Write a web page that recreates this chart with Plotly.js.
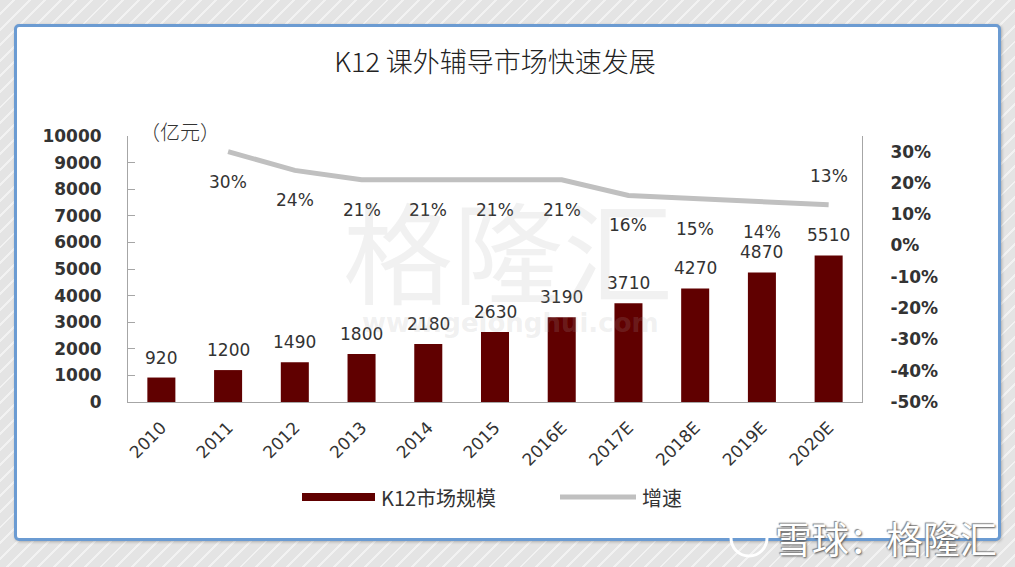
<!DOCTYPE html>
<html>
<head>
<meta charset="utf-8">
<script src="https://cdn.plot.ly/plotly-3.0.1.min.js"></script>
<style>
  html, body { margin: 0; padding: 0; }
  body {
    width: 1015px; height: 567px; overflow: hidden; position: relative;
    background: repeating-linear-gradient(135deg, #e4e4e4 0px, #e4e4e4 9px, #f2f2f2 9px, #f2f2f2 11px);
  }
  #panel {
    position: absolute; left: 14px; top: 24px; width: 981px; height: 511px;
    background: #ffffff; border: 3px solid #6b9bd2; border-radius: 5px;
    box-shadow: 1px 1px 3px rgba(0,0,0,0.25);
  }
  #chart { position: absolute; left: 0; top: 0; width: 1015px; height: 567px; }
</style>
</head>
<body>
<div id="panel"></div>
<div id="chart"></div>
<script>
// ---- data ----
const years = ['2010', '2011', '2012', '2013', '2014', '2015', '2016E', '2017E', '2018E', '2019E', '2020E'];
const marketSize = [920, 1200, 1490, 1800, 2180, 2630, 3190, 3710, 4270, 4870, 5510];
const growthYears = ['2011', '2012', '2013', '2014', '2015', '2016E', '2017E', '2018E', '2019E', '2020E'];
const growthRate = [0.30, 0.24, 0.21, 0.21, 0.21, 0.21, 0.16, 0.15, 0.14, 0.13];
const leftTickVals = [0, 1000, 2000, 3000, 4000, 5000, 6000, 7000, 8000, 9000, 10000];
const rightTickVals = [-0.5, -0.4, -0.3, -0.2, -0.1, 0, 0.1, 0.2, 0.3];
const rightTickText = ['-50%', '-40%', '-30%', '-20%', '-10%', '0%', '10%', '20%', '30%'];
const sizeName = 'K12市场规模';
const growthName = '增速';
const chartTitle = 'K12 课外辅导市场快速发展';
const unitLabel = '（亿元）';

// category positions on the x axis
const xIndex = name => years.indexOf(name);
const barX = years.map(xIndex);
const lineX = growthYears.map(xIndex);

// ---- layout helpers (pixel -> paper) ----
const L = 128, R = 862, T = 136, B = 402;
const px = x => (x - L) / (R - L);
const py = y => (B - y) / (B - T);

const tickFont = { family: 'DejaVu Sans', size: 17, color: '#333333' };
const labelFont = { family: 'DejaVu Sans', size: 17, color: '#333333' };
const cjk = 'Noto Sans CJK SC';

const traces = [
  {
    type: 'bar', name: sizeName, x: barX, y: marketSize,
    marker: { color: '#600000' }, showlegend: false
  },
  {
    type: 'scatter', mode: 'lines', name: growthName, x: lineX, y: growthRate,
    yaxis: 'y2', line: { color: '#c0c0c0', width: 5 }, showlegend: false
  }
];

const annotations = [];
marketSize.forEach((v, i) => {
  annotations.push({
    x: barX[i], y: v, xref: 'x', yref: 'y', text: String(v), showarrow: false,
    yanchor: 'middle', yshift: 20, font: labelFont
  });
});
growthRate.forEach((v, i) => {
  const last = i === growthRate.length - 1;
  annotations.push({
    x: lineX[i], y: v, xref: 'x', yref: 'y2', text: Math.round(v * 100) + '%',
    showarrow: false, yanchor: 'middle', yshift: last ? 29 : -30, font: labelFont
  });
});
// unit label
annotations.push({
  x: px(180), y: py(132), xref: 'paper', yref: 'paper', text: unitLabel, showarrow: false,
  xanchor: 'center', yanchor: 'middle', font: { family: cjk, size: 20, color: '#333333', weight: 300 }
});
// custom legend texts
annotations.push({
  x: px(379), y: py(497), xref: 'paper', yref: 'paper', text: sizeName, showarrow: false,
  xanchor: 'left', yanchor: 'middle', font: { family: cjk, size: 20, color: '#333333' }
});
annotations.push({
  x: px(640), y: py(497), xref: 'paper', yref: 'paper', text: growthName, showarrow: false,
  xanchor: 'left', yanchor: 'middle', font: { family: cjk, size: 20, color: '#333333' }
});
// watermarks
annotations.push({
  x: px(508), y: py(248), xref: 'paper', yref: 'paper', text: '格隆汇', showarrow: false,
  xanchor: 'center', yanchor: 'middle', font: { family: cjk, size: 110, color: 'rgba(170,170,170,0.16)' }
});
annotations.push({
  x: px(510), y: py(323), xref: 'paper', yref: 'paper', text: 'www.gelonghui.com', showarrow: false,
  xanchor: 'center', yanchor: 'middle', font: { family: 'DejaVu Sans', size: 26, color: 'rgba(170,170,170,0.18)', weight: 'bold' }
});
annotations.push({
  x: px(999), y: py(538), xref: 'paper', yref: 'paper', text: '雪球：格隆汇', showarrow: false,
  xanchor: 'right', yanchor: 'middle',
  font: { family: cjk, size: 37, color: '#ffffff', shadow: '1px 1px 2px #555, -1px -1px 1px #888' }
});

const shapes = [
  { type: 'rect', xref: 'paper', yref: 'paper', x0: px(302), x1: px(375), y0: py(501), y1: py(493),
    fillcolor: '#600000', line: { width: 0 } },
  { type: 'line', xref: 'paper', yref: 'paper', x0: px(560), x1: px(636), y0: py(497), y1: py(497),
    line: { color: '#c0c0c0', width: 5 } },
  { type: 'circle', xref: 'paper', yref: 'paper', x0: px(731), x1: px(767), y0: py(556), y1: py(520),
    line: { color: '#ffffff', width: 3 } }
];

const layout = {
  width: 1015, height: 567,
  margin: { l: L, r: 1015 - R, t: T, b: 567 - B, pad: 0 },
  paper_bgcolor: 'rgba(0,0,0,0)', plot_bgcolor: 'rgba(0,0,0,0)',
  title: {
    text: chartTitle, x: 0.5, xref: 'paper', xanchor: 'center', y: 1 - 63 / 567, yanchor: 'middle',
    font: { family: cjk, size: 27, color: '#222222', weight: 300 }
  },
  bargap: 0.58,
  showlegend: false,
  xaxis: {
    type: 'linear', range: [-0.5, years.length - 0.5], tickvals: barX, ticktext: years,
    showline: true, linecolor: '#a6a6a6', linewidth: 1, ticks: '',
    tickangle: -45, tickfont: tickFont, ticklabelstandoff: 8, showgrid: false, zeroline: false
  },
  yaxis: {
    range: [0, 10000], tickvals: leftTickVals, tickformat: 'd', showline: true, linecolor: '#a6a6a6', linewidth: 1,
    ticks: 'inside', ticklen: 7, tickcolor: '#a6a6a6', tickfont: Object.assign({}, tickFont, { weight: 'bold' }),
    ticklabelstandoff: 22, showgrid: false, zeroline: false
  },
  yaxis2: {
    overlaying: 'y', side: 'right', range: [-0.5, 0.35], tickvals: rightTickVals, ticktext: rightTickText,
    showline: true, linecolor: '#a6a6a6', linewidth: 1, ticks: '',
    tickfont: Object.assign({}, tickFont, { weight: 'bold' }), ticklabelstandoff: 24,
    showgrid: false, zeroline: false
  },
  annotations: annotations,
  shapes: shapes
};

Plotly.newPlot('chart', traces, layout, { displayModeBar: false, staticPlot: true });
</script>
</body>
</html>
